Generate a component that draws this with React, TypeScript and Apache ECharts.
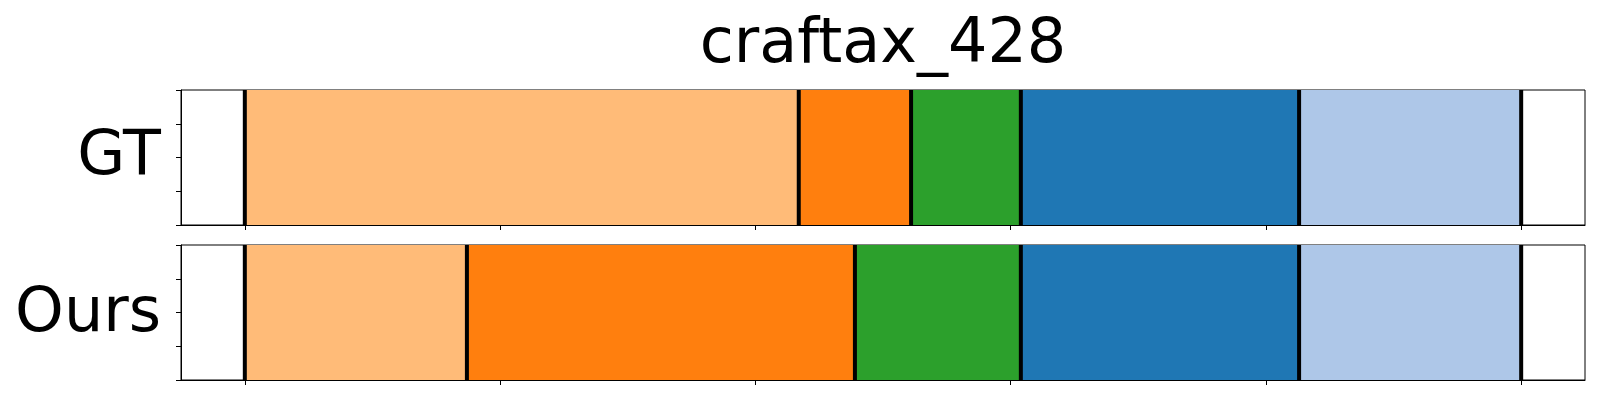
import React, { useEffect, useRef } from "react";
import * as echarts from "echarts";

const title = "craftax_428";
const rowLabels = ["GT", "Ours"];
const phaseColors = ["#ffbb78", "#ff7f0e", "#2ca02c", "#1f77b4", "#aec7e8"];
const gtBoundaries = [0, 217, 261, 304, 413, 500];
const oursBoundaries = [0, 87, 239, 304, 413, 500];
const xTicks = [0, 100, 200, 300, 400, 500];

const FONT = "DejaVu Sans";

function segmentsOf(bounds: number[]) {
  const out: any[] = [];
  for (let i = 0; i < bounds.length - 1; i++) {
    out.push({ value: [bounds[i], bounds[i + 1]], itemStyle: { color: phaseColors[i] } });
  }
  return out;
}

export default function App() {
  const ref = useRef<HTMLDivElement>(null);
  useEffect(() => {
    document.body.style.margin = "0";
    if (!ref.current) return;
    const chart = echarts.init(ref.current, undefined, { renderer: "svg" });
    const rows = [gtBoundaries, oursBoundaries];
    const tops = [90, 245];
    const grids = tops.map((t) => ({
      left: 181,
      top: t,
      width: 1404,
      height: 135,
      show: true,
      borderColor: "#000",
      borderWidth: 1,
      backgroundColor: "#fff",
    }));
    const xAxes = rows.map((_, i) => ({
      type: "value",
      gridIndex: i,
      min: -25,
      max: 525,
      axisLine: { show: true, onZero: false, lineStyle: { color: "#000", width: 1 } },
      axisTick: { show: true, customValues: xTicks, length: 5, lineStyle: { color: "#000", width: 1 } },
      axisLabel: { show: false },
      splitLine: { show: false },
    }));
    const yAxes = rows.map((_, i) => ({
      type: "value",
      gridIndex: i,
      min: -0.5,
      max: 0.5,
      interval: 0.25,
      axisLine: { show: true, onZero: false, lineStyle: { color: "#000", width: 1 } },
      axisTick: { show: true, length: 5, lineStyle: { color: "#000", width: 1 } },
      axisLabel: { show: false },
      splitLine: { show: false },
    }));
    const series: any[] = [];
    rows.forEach((b, i) => {
      series.push({
        type: "custom",
        xAxisIndex: i,
        yAxisIndex: i,
        encode: { x: [0, 1] },
        data: segmentsOf(b),
        renderItem: (params: any, api: any) => {
          const p0 = api.coord([api.value(0), 0.5]);
          const p1 = api.coord([api.value(1), -0.5]);
          return {
            type: "rect",
            shape: { x: p0[0], y: p0[1], width: p1[0] - p0[0], height: p1[1] - p0[1] },
            style: { fill: api.visual("color") },
          };
        },
      });
      series.push({
        type: "custom",
        xAxisIndex: i,
        yAxisIndex: i,
        encode: { x: 0 },
        data: b.map((v) => [v]),
        z: 5,
        renderItem: (params: any, api: any) => {
          const p0 = api.coord([api.value(0), 0.5]);
          const p1 = api.coord([api.value(0), -0.5]);
          return {
            type: "line",
            shape: { x1: p0[0], y1: p0[1], x2: p1[0], y2: p1[1] },
            style: { stroke: "#000", lineWidth: 4 },
          };
        },
      });
    });
    chart.setOption({
      animation: false,
      backgroundColor: "#fff",
      grid: grids,
      xAxis: xAxes,
      yAxis: yAxes,
      series,
      graphic: [
        {
          type: "text",
          x: 883,
          y: 40,
          style: { text: title, font: `62px "${FONT}"`, fill: "#000", textAlign: "center", textVerticalAlign: "middle" },
        },
        {
          type: "text",
          x: 161,
          y: 152,
          style: { text: rowLabels[0], font: `62px "${FONT}"`, fill: "#000", textAlign: "right", textVerticalAlign: "middle" },
        },
        {
          type: "text",
          x: 161,
          y: 309,
          style: { text: rowLabels[1], font: `62px "${FONT}"`, fill: "#000", textAlign: "right", textVerticalAlign: "middle" },
        },
      ],
    });
    return () => chart.dispose();
  }, []);
  return <div ref={ref} style={{ width: 1600, height: 400 }} />;
}
